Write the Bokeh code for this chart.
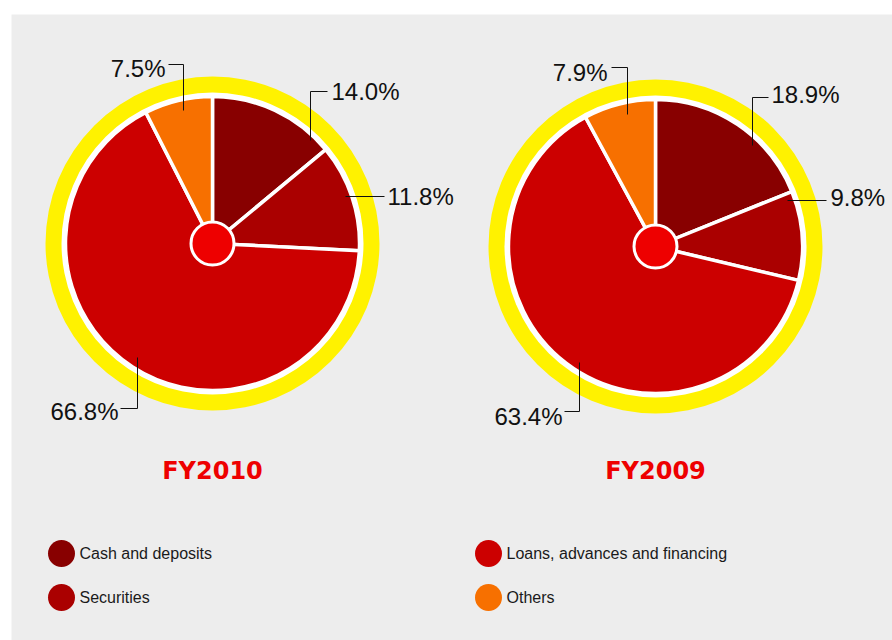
import math
from bokeh.plotting import figure
from bokeh.models import Range1d
from bokeh.core.properties import value
from bokeh.embed import file_html
from bokeh.resources import INLINE

# ---- data ----
categories = ["Cash and deposits", "Securities", "Loans, advances and financing", "Others"]
colors = ["#880000", "#aa0000", "#cc0000", "#f77000"]
fy2010 = [14.0, 11.8, 66.8, 7.5]
fy2009 = [18.9, 9.8, 63.4, 7.9]
titles = ["FY2010", "FY2009"]

W, H = 892, 640
p = figure(width=W, height=H, output_backend="svg", toolbar_location=None,
           x_range=Range1d(0, W), y_range=Range1d(640 - H, 640),
           min_border=0, outline_line_color=None, background_fill_color="white",
           border_fill_color="white")
p.axis.visible = False
p.grid.visible = False

def Y(y):
    return 640 - y

# gray panel
p.quad(left=[11], right=[W + 10], top=[Y(14)], bottom=[Y(660)], fill_color="#ededed", line_color=None)

# layout: pie centers and label leader geometry (page pixel coords)
centers = [(212, 243), (655, 246)]
label_layout = [
    [
        (331, 91, "left", [(327, 91), (310, 91), (310, 140)]),
        (387, 196, "left", [(384, 196), (345, 196)]),
        (118, 411, "right", [(120, 408), (137, 408), (137, 357)]),
        (165, 68, "right", [(168, 64), (183, 64), (183, 110)]),
    ],
    [
        (771, 94, "left", [(768, 97), (752, 97), (752, 145)]),
        (830, 197, "left", [(826, 200), (787, 200)]),
        (562, 416, "right", [(564, 411), (579, 411), (579, 362)]),
        (607, 72, "right", [(611, 67), (627, 67), (627, 114)]),
    ],
]

for (cx, cy), vals, title, layout in zip(centers, [fy2010, fy2009], titles, label_layout):
    total = sum(vals)
    p.circle(x=[cx], y=[Y(cy)], radius=167, fill_color="#fff200", line_color=None)
    p.circle(x=[cx], y=[Y(cy)], radius=151, fill_color="white", line_color=None)
    cum = 0.0
    starts, ends = [], []
    for v in vals:
        a0 = cum / total
        cum += v
        a1 = cum / total
        starts.append(math.pi / 2 - 2 * math.pi * a1)
        ends.append(math.pi / 2 - 2 * math.pi * a0)
    p.wedge(x=[cx] * 4, y=[Y(cy)] * 4, radius=147, start_angle=starts, end_angle=ends,
            fill_color=colors, line_color="white", line_width=3.5)
    p.circle(x=[cx], y=[Y(cy)], radius=21.5, fill_color="#ee0000", line_color="white", line_width=3)

    for v, (tx, ty, al, pts) in zip(vals, layout):
        p.line(x=[q[0] for q in pts], y=[Y(q[1]) for q in pts], line_color="#111111", line_width=1)
        p.text(x=[tx], y=[Y(ty)], text=[f"{v:.1f}%"], text_align=al, text_baseline="middle",
               text_font=value("Liberation Sans"), text_font_size=value("24px"), text_color="#111111")

    p.text(x=[cx], y=[Y(470)], text=[title], text_align="center", text_baseline="middle",
           text_font=value("DejaVu Sans"), text_font_style="bold", text_font_size=value("24px"),
           text_color="#ee0000")

# legend
leg_pos = [(61, 553), (61, 597), (488, 553), (488, 597)]
for (lx, ly), i in zip(leg_pos, range(len(categories))):
    p.circle(x=[lx], y=[Y(ly)], radius=13.5, fill_color=colors[i], line_color=None)
    p.text(x=[lx + 18], y=[Y(ly)], text=[categories[i]], text_align="left", text_baseline="middle",
           text_font=value("Liberation Sans"), text_font_size=value("16px"), text_color="#1a1a1a")

open("out.html", "w").write(file_html(p, INLINE))
